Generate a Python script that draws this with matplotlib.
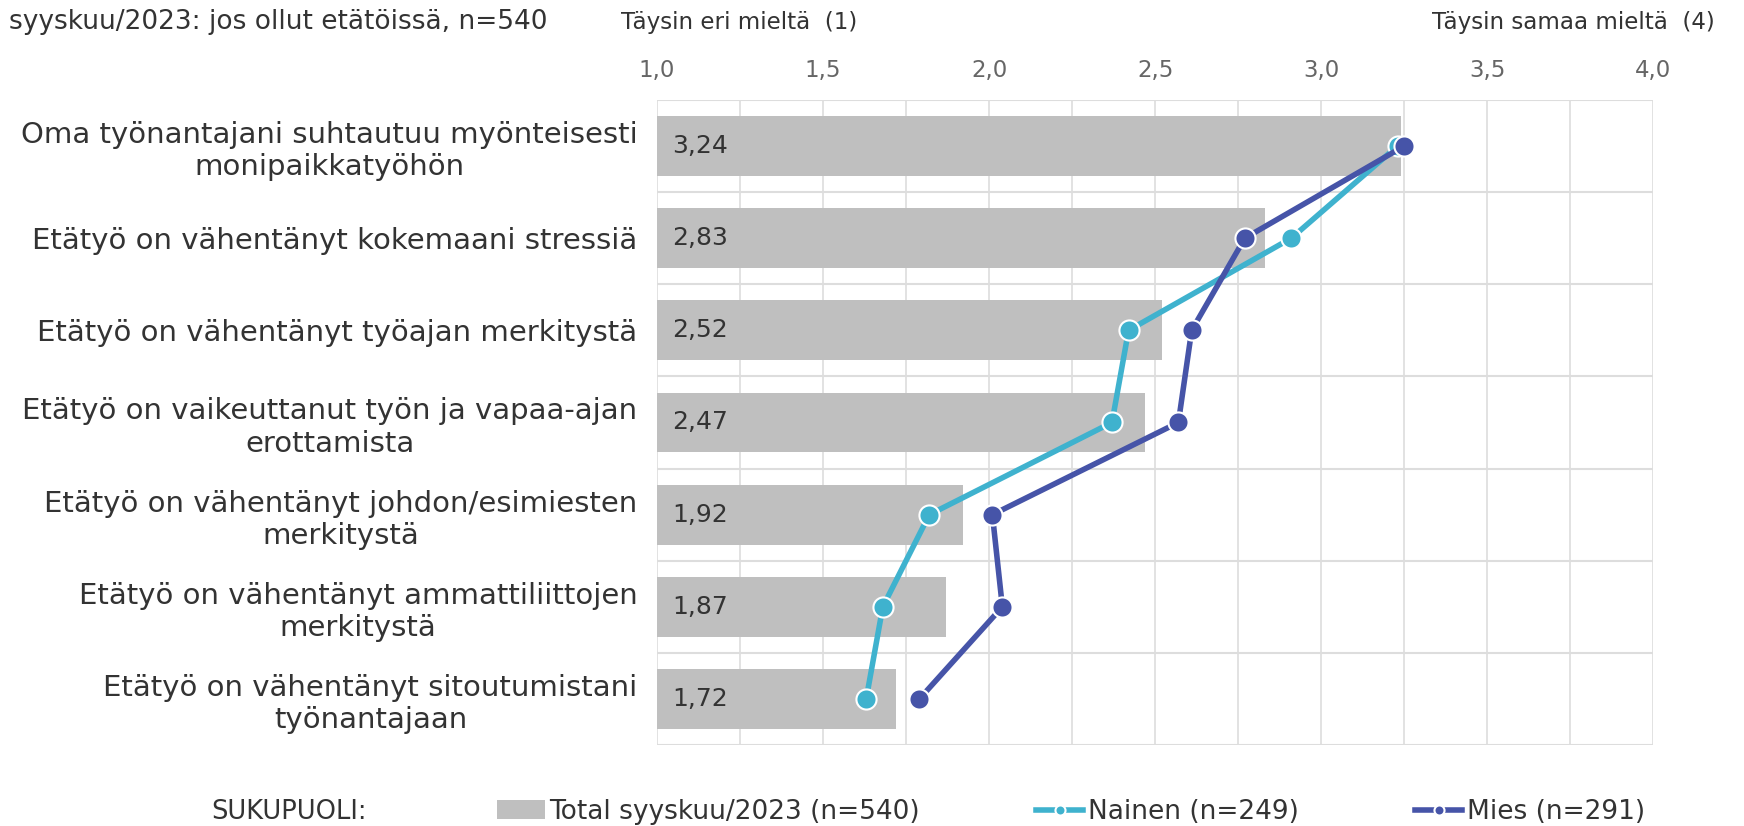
import matplotlib.pyplot as plt
import numpy as np

plt.rcParams['font.family'] = ['DejaVu Sans']

# väittämät ja keskiarvot (asteikko 1-4)
kysymykset = [
    "Oma työnantajani suhtautuu myönteisesti\nmonipaikkatyöhön",
    "Etätyö on vähentänyt kokemaani stressiä",
    "Etätyö on vähentänyt työajan merkitystä",
    "Etätyö on vaikeuttanut työn ja vapaa-ajan\nerottamista",
    "Etätyö on vähentänyt johdon/esimiesten\nmerkitystä",
    "Etätyö on vähentänyt ammattiliittojen\nmerkitystä",
    "Etätyö on vähentänyt sitoutumistani\ntyönantajaan",
]
total = [3.24, 2.83, 2.52, 2.47, 1.92, 1.87, 1.72]
nainen = [3.23, 2.91, 2.42, 2.37, 1.82, 1.68, 1.63]
mies = [3.25, 2.77, 2.61, 2.57, 2.01, 2.04, 1.79]

c_bar = '#BFBFBF'
c_nainen = '#3FB2CE'
c_mies = '#4654A8'
c_text = '#333333'
c_tick = '#666666'
c_grid = '#DDDDDD'

fig = plt.figure(figsize=(17.44, 8.26), dpi=100)
ax = fig.add_axes([0.3767, 0.098, 0.5713, 0.781])

y = np.arange(len(kysymykset))
xmin = 1.0

bars = ax.barh(y, np.array(total) - xmin, left=xmin, height=0.65,
               color=c_bar, zorder=2, label='Total syyskuu/2023 (n=540)')
for yi, v in zip(y, total):
    ax.text(xmin + 0.045, yi, f"{v:.2f}".replace('.', ','), va='center',
            ha='left', fontsize=18, color=c_text, zorder=3)

ax.plot(nainen, y, color=c_nainen, lw=4, marker='o', ms=14.5,
        mec='white', mew=1.5, zorder=4, label='Nainen (n=249)')
ax.plot(mies, y, color=c_mies, lw=4, marker='o', ms=14.5,
        mec='white', mew=1.5, zorder=5, label='Mies (n=291)')

ax.set_xlim(1.0, 4.0)
ax.set_ylim(len(kysymykset) - 0.5, -0.5)

# x-akseli ylhäällä, pilkku desimaalierottimena
ax.xaxis.tick_top()
ticks = np.arange(1.0, 4.01, 0.5)
ax.set_xticks(ticks)
ax.set_xticklabels([f"{t:.1f}".replace('.', ',') for t in ticks])
ax.set_xticks(np.arange(1.0, 4.01, 0.25), minor=True)
ax.tick_params(axis='x', which='both', length=0, pad=13,
               labelsize=16.5, labelcolor=c_tick)

ax.set_yticks(y)
ax.set_yticklabels(kysymykset, fontsize=21, color=c_text,
                   multialignment='center')
ax.set_yticks(np.arange(-0.5, len(kysymykset), 1.0), minor=True)
ax.tick_params(axis='y', which='both', length=0, pad=14)

ax.grid(axis='x', which='both', color=c_grid, lw=1.2, zorder=0)
ax.grid(axis='y', which='minor', color=c_grid, lw=1.5, zorder=0)
ax.set_axisbelow(True)
for s in ax.spines.values():
    s.set_visible(False)

fig.text(0.005, 0.973, "syyskuu/2023: jos ollut etätöissä, n=540",
         fontsize=19, color=c_text, va='center', ha='left')
fig.text(0.356, 0.973, "Täysin eri mieltä  (1)",
         fontsize=16.6, color=c_text, va='center', ha='left')
fig.text(0.983, 0.973, "Täysin samaa mieltä  (4)",
         fontsize=16.6, color=c_text, va='center', ha='right')

fig.text(0.121, 0.017, "SUKUPUOLI:", fontsize=18.5, color=c_text,
         va='center', ha='left')
fig.legend(handles=[bars, ax.lines[0], ax.lines[1]], ncol=3,
           loc='center left', bbox_to_anchor=(0.279, 0.017), frameon=False,
           fontsize=19, labelcolor=c_text, handlelength=1.8,
           handletextpad=0.17, columnspacing=4.4, borderaxespad=0,
           markerscale=0.5)

plt.savefig('out.png', dpi=100)
